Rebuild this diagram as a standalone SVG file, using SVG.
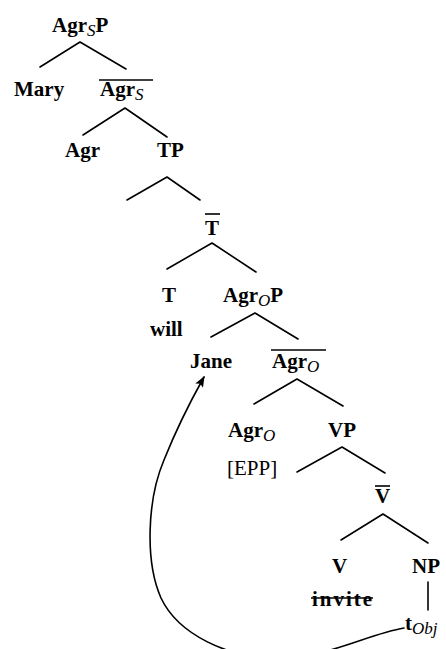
<svg xmlns="http://www.w3.org/2000/svg" width="446" height="649" viewBox="0 0 446 649">
<style>
.t text{font-size:21px;font-weight:bold;fill:#000}
.t .sub{font-style:italic;font-weight:normal;font-size:17px}
.t .reg{font-weight:normal}
.e{stroke:#000;stroke-width:1.6;fill:none;stroke-linecap:round}
.bar{stroke:#000;stroke-width:1.6}
</style>
<defs>
<marker id="ah" viewBox="0 0 10 10" refX="9" refY="5" markerWidth="11" markerHeight="11" markerUnits="userSpaceOnUse" orient="auto">
<path d="M0,1 L10,5 L0,9 L2,5 z" fill="#000"/>
</marker>
</defs>
<rect width="446" height="649" fill="#fff"/>
<g id="connectors">
<path class="e" d="M80,42 L40,67 M80,42 L126,69"/>
<path class="e" d="M125,108 L83,135 M125,108 L167,137"/>
<path class="e" d="M167,177 L127,200 M167,177 L200,200"/>
<path class="e" d="M212,243 L167,269 M212,243 L256,272"/>
<path class="e" d="M255,313 L211,337 M255,313 L298,339"/>
<path class="e" d="M297,379 L254,404 M297,379 L343,406"/>
<path class="e" d="M342,447 L297,472 M342,447 L385,473"/>
<path class="e" d="M383,514 L341,540 M383,514 L428,543"/>
<path class="e" d="M428,582 L428,610"/>
<path class="e" d="M404,628 C368,634 330,657 280,658 C228,659 178,634 161,598 C145,562 147,500 164,460 C176,430 190,402 204,377" marker-end="url(#ah)"/>
</g>
<g class="t" font-family="'Liberation Serif', 'Times New Roman', 'DejaVu Serif', serif">
<g id="AgrSP"><text x="52" y="32">Agr<tspan class="sub" dy="4">S</tspan><tspan dy="-4">P</tspan></text></g>
<g id="Mary"><text x="14" y="96">Mary</text></g>
<g id="AgrSbar"><line class="bar" x1="99" y1="80" x2="153" y2="80"/><text x="100" y="96">Agr<tspan class="sub" dy="4">S</tspan></text></g>
<g id="Agr"><text x="65" y="157">Agr</text></g>
<g id="TP"><text x="157" y="157">TP</text></g>
<g id="Tbar"><line class="bar" x1="205" y1="214" x2="220" y2="214"/><text x="205" y="235">T</text></g>
<g id="T"><text x="162" y="302">T</text><text x="150" y="336">will</text></g>
<g id="AgrOP"><text x="223" y="302">Agr<tspan class="sub" dy="4">O</tspan><tspan dy="-4">P</tspan></text></g>
<g id="Jane"><text x="190" y="368">Jane</text></g>
<g id="AgrObar"><line class="bar" x1="271" y1="350" x2="326" y2="350"/><text x="272" y="368">Agr<tspan class="sub" dy="4">O</tspan></text></g>
<g id="AgrO"><text x="228" y="437">Agr<tspan class="sub" dy="4">O</tspan></text><text class="reg" x="227" y="475">[EPP]</text></g>
<g id="VP"><text x="328" y="437">VP</text></g>
<g id="Vbar"><line class="bar" x1="375" y1="486" x2="390" y2="486"/><text x="375" y="503">V</text></g>
<g id="V"><text x="332" y="573">V</text><text x="312" y="606" textLength="60">invite</text><line class="bar" x1="311" y1="598" x2="373" y2="598"/></g>
<g id="NP"><text x="412" y="573">NP</text></g>
<g id="tObj"><text x="405" y="630">t<tspan class="sub" dy="4">Obj</tspan></text></g>
</g>
</svg>
